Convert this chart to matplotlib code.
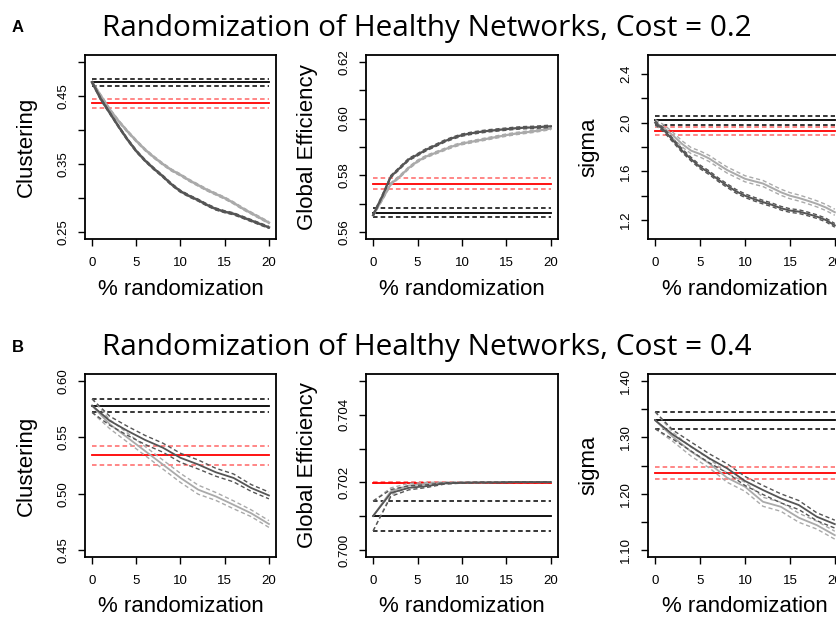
import matplotlib
matplotlib.use('Agg')
import matplotlib.pyplot as plt
import numpy as np

plt.rcParams['font.family'] = ['Liberation Sans', 'DejaVu Sans']

W, H = 837, 618

# ---- data, cost = 0.2 (fine steps) ----
x_fine = list(range(0, 21))
x_coarse = list(range(0, 21, 2))

clus02_dark = [0.470, 0.445, 0.425, 0.405, 0.386, 0.369, 0.355, 0.343, 0.332, 0.320, 0.310,
               0.303, 0.297, 0.290, 0.284, 0.280, 0.277, 0.272, 0.267, 0.262, 0.257]
clus02_light = [0.470, 0.450, 0.430, 0.413, 0.398, 0.384, 0.371, 0.360, 0.350, 0.341, 0.334,
                0.326, 0.319, 0.312, 0.306, 0.300, 0.293, 0.285, 0.278, 0.271, 0.264]
clus02_sd = 0.0015
clus02_lattice = (0.470, 0.475, 0.465)   # mean, upper, lower
clus02_random = (0.439, 0.445, 0.432)

eff02_dark = [0.5660, 0.5725, 0.5796, 0.5826, 0.5856, 0.5873, 0.5891, 0.5905, 0.5920, 0.5932, 0.5942,
              0.5948, 0.5953, 0.5957, 0.5960, 0.5963, 0.5966, 0.5968, 0.5969, 0.5971, 0.5973]
eff02_light = [0.5660, 0.5714, 0.5770, 0.5796, 0.5826, 0.5850, 0.5867, 0.5879, 0.5891, 0.5903, 0.5912,
               0.5918, 0.5924, 0.5930, 0.5936, 0.5942, 0.5947, 0.5951, 0.5955, 0.5960, 0.5965]
eff02_sd = 0.0004
eff02_lattice = (0.5669, 0.5684, 0.5654)
eff02_random = (0.5770, 0.5791, 0.5752)

sig02_dark = [2.000, 1.936, 1.853, 1.770, 1.700, 1.636, 1.589, 1.533, 1.483, 1.436, 1.400,
              1.372, 1.347, 1.325, 1.297, 1.278, 1.269, 1.250, 1.228, 1.200, 1.156]
sig02_light = [2.000, 1.956, 1.894, 1.825, 1.770, 1.742, 1.706, 1.658, 1.611, 1.575, 1.539,
               1.519, 1.500, 1.464, 1.428, 1.400, 1.381, 1.358, 1.333, 1.303, 1.264]
sig02_dark_sd = 0.015
sig02_light_sd = 0.025
sig02_lattice = (2.019, 2.056, 1.980)
sig02_random = (1.933, 1.966, 1.900)

# ---- data, cost = 0.4 (steps of 2) ----
clus04_dark = [0.578, 0.5646, 0.5557, 0.5476, 0.5408, 0.5318, 0.5259, 0.519, 0.514, 0.5051, 0.4985]
clus04_light = [0.578, 0.5616, 0.5497, 0.5378, 0.5259, 0.514, 0.5036, 0.4976, 0.4902, 0.4827, 0.4732]
clus04_sd = [0.006, 0.004, 0.004, 0.004, 0.004, 0.004, 0.004, 0.0035, 0.0035, 0.003, 0.003]
clus04_lattice = (0.578, 0.584, 0.572)
clus04_random = (0.534, 0.542, 0.525)

eff04_dark = [0.70101, 0.70169, 0.70184, 0.70189, 0.70197, 0.70199, 0.70200, 0.70200, 0.70201, 0.70201, 0.70201]
eff04_light = [0.70101, 0.70174, 0.70191, 0.70196, 0.70199, 0.70200, 0.70200, 0.70201, 0.70201, 0.70201, 0.70201]
eff04_sd = [0.00044, 0.0001, 0.00006, 0.00004, 0.00002, 0.00001, 0.00001, 0.00001, 0.00001, 0.00001, 0.00001]
eff04_lattice = (0.70101, 0.70144, 0.70057)
eff04_random = (0.70199, 0.70200, 0.70198)

sig04_dark = [1.330, 1.3043, 1.2835, 1.2629, 1.2451, 1.2226, 1.2066, 1.1918, 1.1799, 1.1592, 1.1462]
sig04_light = [1.330, 1.3002, 1.2746, 1.254, 1.2284, 1.2124, 1.1858, 1.1769, 1.1574, 1.1444, 1.1266]
sig04_sd = [0.015, 0.008, 0.008, 0.008, 0.008, 0.008, 0.008, 0.008, 0.008, 0.007, 0.007]
sig04_lattice = (1.3297, 1.345, 1.3144)
sig04_random = (1.2362, 1.247, 1.2267)

DARK = '#555555'
LIGHT = '#aaaaaa'
DASH = (0, (3, 2))


def px_axes(x0, y0, x1, y1):
    return fig.add_axes([x0 / W, 1 - y1 / H, (x1 - x0) / W, (y1 - y0) / H])


def panel(ax, x, dark, light, sd_d, sd_l, lattice, random, ylim, yticks, ylabels, ylab, lw=1.6):
    x = np.array(x)
    dark, light = np.array(dark), np.array(light)
    sd_d, sd_l = np.array(sd_d), np.array(sd_l)
    for vals, c in ((lattice, 'black'), (random, 'red')):
        a = 0.6 if c == 'red' else 1
        ax.axhline(vals[0], xmin=0.037, xmax=0.963, color=c, lw=1.3)
        ax.axhline(vals[1], xmin=0.037, xmax=0.963, color=c, lw=1.1, ls=DASH, alpha=a)
        ax.axhline(vals[2], xmin=0.037, xmax=0.963, color=c, lw=1.1, ls=DASH, alpha=a)
    for y, s, c in ((light, sd_l, LIGHT), (dark, sd_d, DARK)):
        ax.plot(x, y + s, color=c, lw=1.0, ls=DASH)
        ax.plot(x, y - s, color=c, lw=1.0, ls=DASH)
        ax.plot(x, y, color=c, lw=lw)
    ax.set_xlim(-0.8, 20.8)
    ax.set_ylim(ylim[0] - 0.04 * (ylim[1] - ylim[0]), ylim[1] + 0.04 * (ylim[1] - ylim[0]))
    ax.set_xticks([0, 5, 10, 15, 20])
    ax.set_yticks(yticks)
    ax.set_yticklabels(ylabels, rotation=90, va='center')
    ax.tick_params(length=5, width=1, labelsize=9.5, pad=6.5)
    ax.tick_params(axis='x', pad=8)
    for sp in ax.spines.values():
        sp.set_linewidth(1.3)
    ax.set_xlabel('% randomization', fontsize=16)
    ax.xaxis.set_label_coords(0.5, -0.215)
    ax.set_ylabel(ylab, fontsize=16)
    ax.yaxis.set_label_coords(-0.25, 0.5)


fig = plt.figure(figsize=(W / 100, H / 100), dpi=100)

cols = [(85, 276), (366, 558), (648, 842)]
rows = [(55, 239), (374, 557)]

ax = px_axes(cols[0][0], rows[0][0], cols[0][1], rows[0][1])
panel(ax, x_fine, clus02_dark, clus02_light, clus02_sd, clus02_sd, clus02_lattice, clus02_random,
      (0.25, 0.50), [0.25, 0.30, 0.35, 0.40, 0.45, 0.50], ['0.25', '', '0.35', '', '0.45', ''], 'Clustering', lw=1.8)
ax = px_axes(cols[1][0], rows[0][0], cols[1][1], rows[0][1])
panel(ax, x_fine, eff02_dark, eff02_light, eff02_sd, eff02_sd, eff02_lattice, eff02_random,
      (0.56, 0.62), [0.56, 0.57, 0.58, 0.59, 0.60, 0.61, 0.62], ['0.56', '', '0.58', '', '0.60', '', '0.62'],
      'Global Efficiency', lw=1.6)
ax = px_axes(cols[2][0], rows[0][0], cols[2][1], rows[0][1])
panel(ax, x_fine, sig02_dark, sig02_light, sig02_dark_sd, sig02_light_sd, sig02_lattice, sig02_random,
      (1.1, 2.5), [1.2, 1.4, 1.6, 1.8, 2.0, 2.2, 2.4], ['1.2', '', '1.6', '', '2.0', '', '2.4'], 'sigma', lw=1.4)

ax = px_axes(cols[0][0], rows[1][0], cols[0][1], rows[1][1])
panel(ax, x_coarse, clus04_dark, clus04_light, clus04_sd, clus04_sd, clus04_lattice, clus04_random,
      (0.45, 0.60), [0.45, 0.50, 0.55, 0.60], ['0.45', '0.50', '0.55', '0.60'], 'Clustering', lw=1.3)
ax = px_axes(cols[1][0], rows[1][0], cols[1][1], rows[1][1])
panel(ax, x_coarse, eff04_dark, eff04_light, eff04_sd, eff04_sd, eff04_lattice, eff04_random,
      (0.700, 0.705), [0.700, 0.701, 0.702, 0.703, 0.704, 0.705], ['0.700', '', '0.702', '', '0.704', ''],
      'Global Efficiency', lw=1.3)
ax = px_axes(cols[2][0], rows[1][0], cols[2][1], rows[1][1])
panel(ax, x_coarse, sig04_dark, sig04_light, sig04_sd, sig04_sd, sig04_lattice, sig04_random,
      (1.10, 1.40), [1.10, 1.15, 1.20, 1.25, 1.30, 1.35, 1.40], ['1.10', '', '1.20', '', '1.30', '', '1.40'],
      'sigma', lw=1.3)

for ytop, letter, cost in ((36, 'A', '0.2'), (355, 'B', '0.4')):
    fig.text(427 / W, 1 - ytop / H, 'Randomization of Healthy Networks, Cost = ' + cost,
             family='Open Sans', fontsize=21.4, ha='center', va='baseline')
    fig.text(18 / W, 1 - (ytop - 8) / H, letter, fontsize=12, weight='bold', ha='center', va='center')

fig.savefig('out.png', dpi=100)
